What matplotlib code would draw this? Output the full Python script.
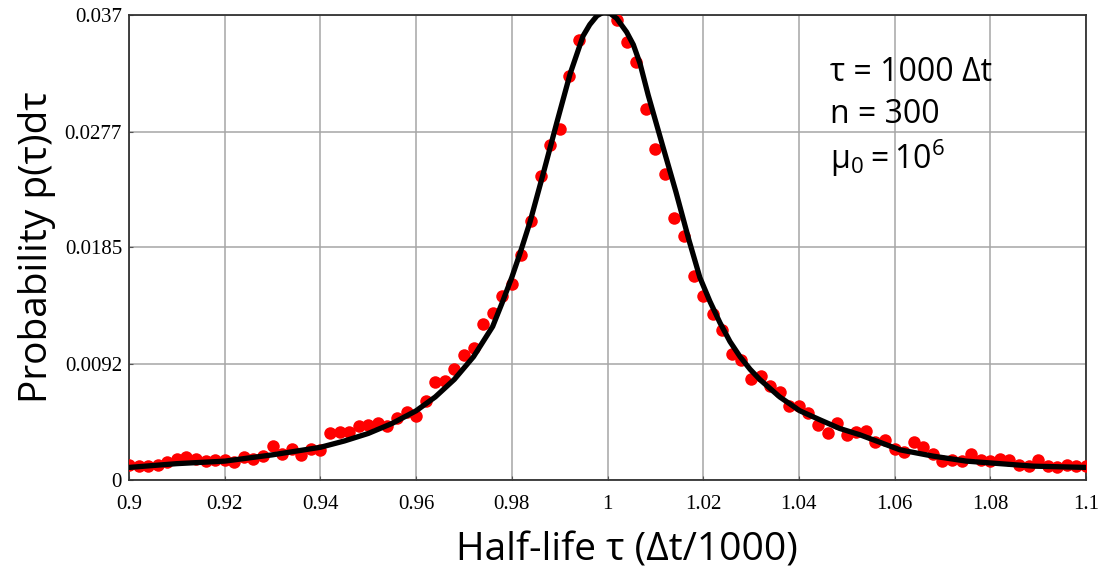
import matplotlib
matplotlib.use("Agg")
import matplotlib.pyplot as plt

# Measured histogram points (red dots)
dot_x = [0.900, 0.902, 0.904, 0.906, 0.908, 0.910, 0.912, 0.914, 0.916, 0.918,
         0.920, 0.922, 0.924, 0.926, 0.928, 0.930, 0.932, 0.934, 0.936, 0.938,
         0.940, 0.942, 0.944, 0.946, 0.948, 0.950, 0.952, 0.954, 0.956, 0.958,
         0.960, 0.962, 0.964, 0.966, 0.968, 0.970, 0.972, 0.974, 0.976, 0.978,
         0.980, 0.982, 0.984, 0.986, 0.988, 0.990, 0.992, 0.994,
         1.002, 1.004, 1.006, 1.008, 1.010, 1.012, 1.014, 1.016, 1.018,
         1.020, 1.022, 1.024, 1.026, 1.028, 1.030, 1.032, 1.034, 1.036, 1.038,
         1.040, 1.042, 1.044, 1.046, 1.048, 1.050, 1.052, 1.054, 1.056, 1.058,
         1.060, 1.062, 1.064, 1.066, 1.068, 1.070, 1.072, 1.074, 1.076, 1.078,
         1.080, 1.082, 1.084, 1.086, 1.088, 1.090, 1.092, 1.094, 1.096, 1.098,
         1.100]
dot_y = [0.0012, 0.0011, 0.0011, 0.0012, 0.0014, 0.0017, 0.0018, 0.0017, 0.0015, 0.0016,
         0.0016, 0.0014, 0.0018, 0.0017, 0.0019, 0.0027, 0.0021, 0.0025, 0.0020, 0.0025,
         0.0024, 0.0037, 0.0038, 0.0038, 0.0043, 0.0044, 0.0045, 0.0043, 0.0049, 0.0054,
         0.0051, 0.0063, 0.0078, 0.0079, 0.0088, 0.0099, 0.0105, 0.0124, 0.0133, 0.0146,
         0.0156, 0.0179, 0.0206, 0.0242, 0.0266, 0.0279, 0.0321, 0.0350,
         0.0366, 0.0348, 0.0332, 0.0295, 0.0263, 0.0243, 0.0208, 0.0194, 0.0162,
         0.0146, 0.0132, 0.0119, 0.0100, 0.0095, 0.0080, 0.0083, 0.0075, 0.0070, 0.0059,
         0.0059, 0.0053, 0.0044, 0.0037, 0.0045, 0.0036, 0.0038, 0.0039, 0.0030, 0.0032,
         0.0025, 0.0022, 0.0030, 0.0026, 0.0021, 0.0015, 0.0016, 0.0015, 0.0021, 0.0016,
         0.0015, 0.0017, 0.0016, 0.0012, 0.0011, 0.0016, 0.0011, 0.0010, 0.0012, 0.0011,
         0.0011]

# Theoretical curve (black line)
curve_x = [0.900, 0.910, 0.920, 0.930, 0.935, 0.940, 0.945, 0.950, 0.955, 0.960,
           0.964, 0.968, 0.972, 0.976, 0.978, 0.980, 0.9817, 0.9838, 0.9866, 0.9894,
           0.9922, 0.9949, 0.9963, 0.9978, 0.9992, 1.0005, 1.0019, 1.0040, 1.0054, 1.0068,
           1.0085, 1.0115, 1.0143, 1.0170, 1.0193, 1.0214, 1.0235, 1.0256, 1.0277, 1.0298,
           1.0318, 1.0360, 1.0402, 1.0443, 1.0485, 1.0527, 1.0569, 1.0611, 1.068, 1.075,
           1.082, 1.089, 1.100]
curve_y = [0.0010, 0.0013, 0.0015, 0.0020, 0.0023, 0.0026, 0.0031, 0.0037, 0.0045, 0.0055,
           0.0066, 0.0080, 0.0098, 0.0122, 0.0141, 0.0161, 0.0180, 0.0205, 0.0244, 0.0284,
           0.0323, 0.0353, 0.0362, 0.0369, 0.0372, 0.0371, 0.0367, 0.0356, 0.0346, 0.0331,
           0.0306, 0.0266, 0.0229, 0.0191, 0.0161, 0.0142, 0.0125, 0.0110, 0.0098, 0.0088,
           0.0080, 0.0066, 0.0055, 0.0048, 0.0041, 0.0036, 0.0030, 0.0024, 0.0019, 0.0015,
           0.0013, 0.0011, 0.0010]

x_ticks = [0.90, 0.92, 0.94, 0.96, 0.98, 1.00, 1.02, 1.04, 1.06, 1.08, 1.10]
x_ticklabels = ["0.9", "0.92", "0.94", "0.96", "0.98", "1", "1.02", "1.04", "1.06", "1.08", "1.1"]
y_ticks = [0.0, 0.0092, 0.0185, 0.0277, 0.037]
y_ticklabels = ["0", "0.0092", "0.0185", "0.0277", "0.037"]

sans = ["Open Sans", "DejaVu Sans"]
serif = ["Liberation Serif", "DejaVu Serif"]

fig = plt.figure(figsize=(11.09, 5.73), dpi=100)
ax = fig.add_axes([129/1109, 1 - 480/573, (1086-129)/1109, (480-14.5)/573])

ax.plot(dot_x, dot_y, "o", color="#ff0000", markersize=9, markeredgewidth=0, zorder=3)
ax.plot(curve_x, curve_y, "-", color="black", linewidth=3.8, zorder=4,
        solid_joinstyle="round", solid_capstyle="round")

ax.set_xlim(0.9, 1.1)
ax.set_ylim(0, 0.037)
ax.set_xticks(x_ticks)
ax.set_xticklabels(x_ticklabels, family=serif, fontsize=15)
ax.set_yticks(y_ticks)
ax.set_yticklabels(y_ticklabels, family=serif, fontsize=15)
ax.tick_params(axis="x", direction="in", length=3, width=0.8, color="#555555", pad=11)
ax.tick_params(axis="y", direction="in", length=3, width=0.8, color="#555555", pad=5)
ax.grid(True, color="#a6a6a6", linewidth=1.1)
ax.set_axisbelow(True)
for s in ax.spines.values():
    s.set_color("#333333")
    s.set_linewidth(1.3)

ax.set_xlabel("Half-life τ (Δt/1000)", family=sans, fontsize=28)
ax.xaxis.set_label_coords(0.52, -0.11)
ax.set_ylabel("Probability p(τ)dτ", family=sans, fontsize=28, labelpad=6)

ax.text(0.7325, 0.876, "τ = 1000 Δt", transform=ax.transAxes, family=sans, fontsize=23, va="center")
ax.text(0.7325, 0.786, "n = 300", transform=ax.transAxes, family=sans, fontsize=23, va="center")
ax.text(0.7325, 0.668, r"$\mathregular{μ_0 = 10^6}$", transform=ax.transAxes, family=sans, fontsize=23, va="baseline")

fig.savefig("out.png", dpi=100)
